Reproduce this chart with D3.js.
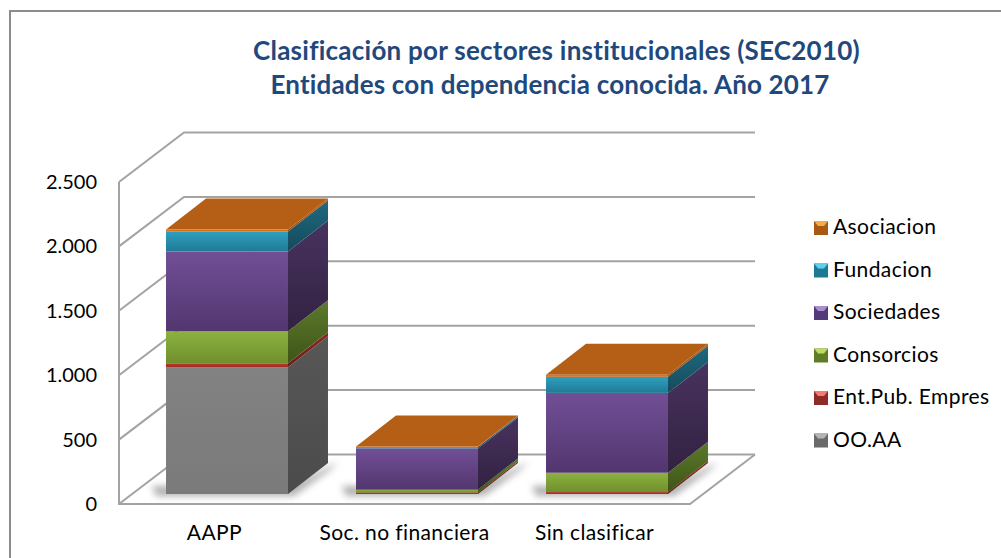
<!DOCTYPE html>
<html><head><meta charset="utf-8">
<script src="https://cdn.jsdelivr.net/npm/d3@7/dist/d3.min.js"></script>
<style>html,body{margin:0;padding:0;background:#fff}svg{display:block}text{font-family:Lato,sans-serif;font-variant-ligatures:none}</style>
</head><body><svg id="c" width="1001" height="558"></svg>
<script>
const categories = ["AAPP","Soc. no financiera","Sin clasificar"];
const seriesNames = ["OO.AA","Ent.Pub. Empres","Consorcios","Sociedades","Fundacion","Asociacion"];
const ooaa = [985,0,0];
const entPub = [30,12,15];
const consorcios = [248,22,150];
const sociedades = [620,320,620];
const fundacion = [155,10,125];
const asociacion = [15,5,15];
const yTicks = [0,500,1000,1500,2000,2500];
const tickLabels = ["0","500","1.000","1.500","2.000","2.500"];
const titleLines = ["Clasificación por sectores institucionales (SEC2010)","Entidades con dependencia conocida. Año 2017"];
const seriesValues = [ooaa,entPub,consorcios,sociedades,fundacion,asociacion];
const palette = [
 {front:["#828282","#7a7a7a"],side:["#575757","#4b4b4b"],leg:["#b4b4b4","#6a6a6a"]},
 {front:["#c0392f","#9c2c26"],side:["#8a2a26","#6a1f1c"],leg:["#f47a72","#8f2b27"]},
 {front:["#8db23e","#6f8f2e"],side:["#5c7a2b","#3f5418"],leg:["#bedc64","#5f7d26"]},
 {front:["#714f96","#52366f"],side:["#48325f","#322241"],leg:["#ab8ed2","#553a78"]},
 {front:["#2f9fbf","#207a94"],side:["#1f6a80","#154a5b"],leg:["#5fd0ec","#1e7a94"]},
 {front:["#e07a20","#c86a18"],side:["#b85f16","#a04f10"],leg:["#f8aa48","#a85a15"]}
];
const topFace = "#b55f16";
const svg = d3.select("#c");
const defs = svg.append("defs");
const W = 1001;
const y = d3.scaleLinear().domain([0,2500]).range([504,182]);
const wall = {dx:65,dy:-49.5}, floorRight = 690;
const x = d3.scaleBand().domain(categories).range([132,702]).paddingInner(0.358).paddingOuter(0.179);
const barDepth = {dx:40,dy:-31}, baseLift = -10;
const gridC = "#a3a3a3";
function grad(id,c){const g=defs.append("linearGradient").attr("id",id).attr("x1",0).attr("y1",0).attr("x2",0).attr("y2",1);
 g.append("stop").attr("offset",0).attr("stop-color",c[0]);g.append("stop").attr("offset",1).attr("stop-color",c[1]);}
palette.forEach((p,i)=>{grad("f"+i,p.front);grad("s"+i,p.side);});
defs.append("filter").attr("id","blur").attr("x","-20%").attr("y","-50%").attr("width","140%").attr("height","200%")
 .append("feGaussianBlur").attr("stdDeviation",3.5);

svg.append("path").attr("d",`M10 558V11H${W}`).attr("fill","none").attr("stroke","#8c8c8c").attr("stroke-width",2);

const g = svg.append("g").attr("fill","none").attr("stroke",gridC).attr("stroke-width",2);
yTicks.forEach(t=>{
  const yy=y(t);
  g.append("path").attr("d",`M119 ${yy}L${119+wall.dx} ${yy+wall.dy}H${floorRight+wall.dx}`);
});
g.append("path").attr("d",`M119 ${y(2500)}V${y(0)}H${floorRight}L${floorRight+wall.dx} ${y(0)+wall.dy}`);

const line = d3.line();
categories.forEach((c,ci)=>{
  const x0=x(c), x1=x0+x.bandwidth(), base=y(0)+baseLift;
  const hh=v=>y(0)-y(v);
  svg.append("path").attr("d",line([[x0-14,base-8],[x1,base-8],[x1+barDepth.dx+10,base+barDepth.dy-1],[x1+barDepth.dx+2,base+barDepth.dy+7],[x1+6,base+2],[x0-10,base+2]]))
    .attr("fill","#7a7a7a").attr("opacity",.6).attr("filter","url(#blur)");
  let cum=0;
  seriesValues.forEach((s,si)=>{
    const v=s[ci]; if(!v) return;
    const yb=base-hh(cum), yt=base-hh(cum+v); cum+=v;
    const bar=svg.append("g");
    bar.append("path").attr("d",line([[x1,yb],[x1+barDepth.dx,yb+barDepth.dy],[x1+barDepth.dx,yt+barDepth.dy],[x1,yt]])).attr("fill",`url(#s${si})`);
    bar.append("rect").attr("x",x0).attr("y",yt).attr("width",x.bandwidth()).attr("height",yb-yt).attr("fill",`url(#f${si})`);
  });
  const yt=base-hh(cum);
  svg.append("path").attr("d",line([[x0,yt],[x1,yt],[x1+barDepth.dx,yt+barDepth.dy],[x0+barDepth.dx,yt+barDepth.dy]])).attr("fill",topFace);
});

const ax = svg.append("g").attr("fill","#000");
yTicks.forEach((t,i)=>ax.append("text").attr("x",97).attr("y",y(t)+7).attr("text-anchor","end").attr("font-size",20).text(tickLabels[i]));
categories.forEach(c=>ax.append("text").attr("x",x(c)+x.bandwidth()/2-12.5).attr("y",540).attr("text-anchor","middle").attr("font-size",21).attr("letter-spacing",0.4).text(c));

const titleX=[556.5,550];
titleLines.forEach((t,i)=>svg.append("text").attr("x",titleX[i]).attr("y",60+i*34).attr("text-anchor","middle").attr("font-size",26).attr("letter-spacing",i?0.17:0.25).attr("font-weight",700).attr("fill","#1f497d").text(t));

const legendOrder=d3.range(5,-1,-1);
const ly=d3.scalePoint().domain(legendOrder).range([228,440.5]);
legendOrder.forEach(i=>{
  const c=ly(i), p=palette[i].leg;
  svg.append("rect").attr("x",814).attr("y",c-7).attr("width",14).attr("height",14).attr("fill",p[1]);
  svg.append("path").attr("d",line([[814,c-7],[828,c-7],[824,c-2],[818,c-2]])).attr("fill",p[0]);
  svg.append("text").attr("x",833).attr("y",c+6).attr("font-size",21).attr("letter-spacing",0.4).attr("fill","#000").text(seriesNames[i]);
});
</script></body></html>
